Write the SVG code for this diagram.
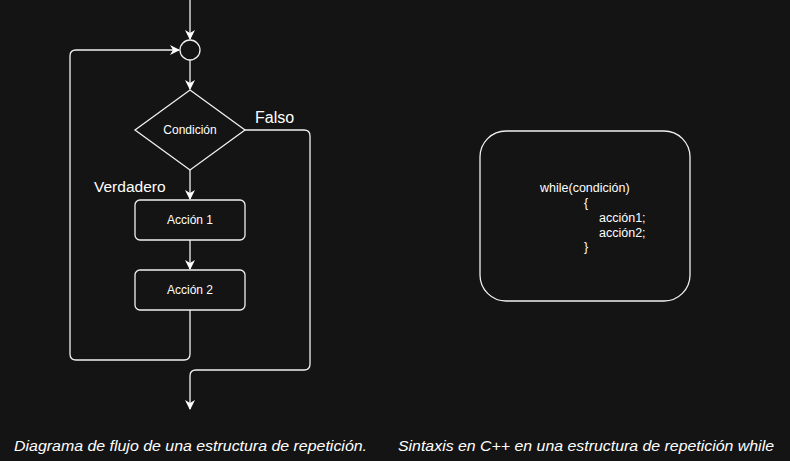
<svg xmlns="http://www.w3.org/2000/svg" width="790" height="461" viewBox="0 0 790 461">
<defs>
<marker id="arr" viewBox="0 0 10 10" refX="9" refY="5" markerWidth="10" markerHeight="10" markerUnits="userSpaceOnUse" orient="auto">
<path d="M0,0 L10,5 L0,10 L3,5 Z" fill="#ffffff"/>
</marker>
<style>
.ln{fill:none;stroke:#f0f0f0;stroke-width:1.3}
.nd{fill:#141414;stroke:#f0f0f0;stroke-width:1.3}
.t{font-family:"Liberation Sans",Arial,sans-serif;fill:#ffffff}
.cap{font-family:"Liberation Sans",Arial,sans-serif;fill:#ffffff;font-style:italic;font-size:14px}
</style>
</defs>
<rect width="790" height="461" fill="#141414"/>
<g id="connectors">
<path class="ln" d="M190,0 V39" marker-end="url(#arr)"/>
<path class="ln" d="M190,60 V89" marker-end="url(#arr)"/>
<path class="ln" d="M190,170 V199" marker-end="url(#arr)"/>
<path class="ln" d="M190,240 V269" marker-end="url(#arr)"/>
<path class="ln" d="M190,310 V354 Q190,360 184,360 H76 Q70,360 70,354 V56 Q70,50 76,50 H179" marker-end="url(#arr)"/>
<path class="ln" d="M245,130 H304 Q310,130 310,136 V364 Q310,370 304,370 H196 Q190,370 190,376 V409" marker-end="url(#arr)"/>
<text class="t" x="255" y="123" font-size="16">Falso</text>
<text class="t" x="94" y="192" font-size="15.5">Verdadero</text>
</g>
<g id="merge"><circle class="nd" cx="190" cy="50" r="10"/></g>
<g id="cond"><path class="nd" d="M190,90 L245,130 L190,170 L135,130 Z"/><text class="t" x="190" y="134" font-size="12" text-anchor="middle">Condición</text></g>
<g id="accion1"><rect class="nd" x="135" y="200" width="110" height="40" rx="5"/><text class="t" x="190" y="224" font-size="12" text-anchor="middle">Acción 1</text></g>
<g id="accion2"><rect class="nd" x="135" y="270" width="110" height="40" rx="5"/><text class="t" x="190" y="294" font-size="12" text-anchor="middle">Acción 2</text></g>
<g id="code">
<rect class="nd" x="480" y="131" width="210" height="170" rx="26"/>
<text class="t" font-size="12.5">
<tspan x="540" y="192">while(condición)</tspan>
<tspan x="584" y="207">{</tspan>
<tspan x="599" y="222">acción1;</tspan>
<tspan x="599" y="237">acción2;</tspan>
<tspan x="584" y="251">}</tspan>
</text>
</g>
<g id="captions">
<text class="cap" x="14" y="451" textLength="353" lengthAdjust="spacingAndGlyphs">Diagrama de flujo de una estructura de repetición.</text>
<text class="cap" x="398" y="451" textLength="376" lengthAdjust="spacingAndGlyphs">Sintaxis en C++ en una estructura de repetición while</text>
</g>
</svg>
